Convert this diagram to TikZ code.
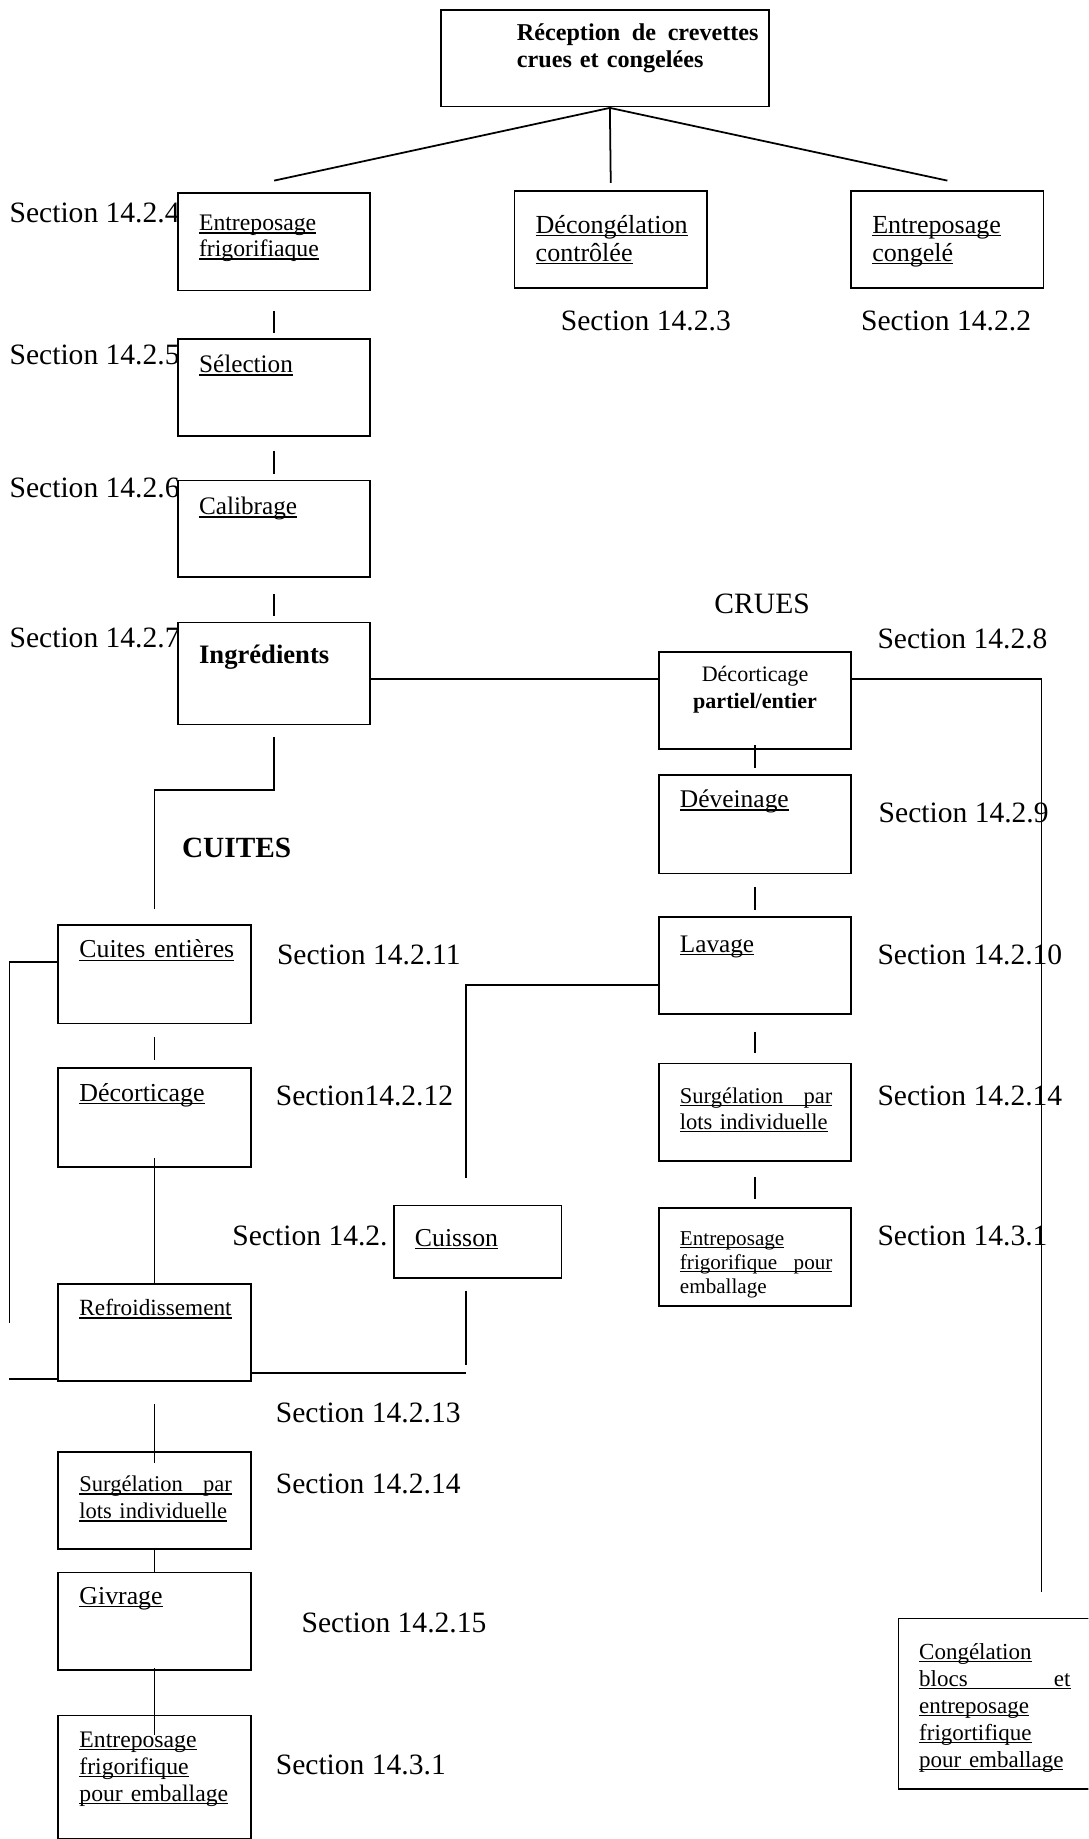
\documentclass[tikz,border=0pt]{standalone}
\usepackage{fontspec}
\setmainfont{Liberation Serif}
\usetikzlibrary{calc}
\newsavebox\ulinebox
\newcommand{\uln}[1]{\leavevmode\sbox\ulinebox{#1}\rlap{\rule[-2.6pt]{\wd\ulinebox}{1.2pt}}\usebox\ulinebox}
\tikzset{
  stage/.style n args={3}{draw, fill=white, line width=1.5pt, anchor=north west,
    inner xsep=18pt, inner ysep=0pt, text width=#1pt-36pt, align=left,
    text height=#3pt, text depth=#2pt-#3pt},
  fnt/.style 2 args={font=\fontsize{#1}{#2}\selectfont},
  sect/.style={anchor=base west, inner sep=0pt, fnt={25.2}{30}},
  link/.style={line width=1.5pt},
}
\begin{document}
\begin{tikzpicture}[x=1pt,y=-1pt]
\useasboundingbox (0,0) rectangle (928,1568);
\clip (0,0) rectangle (928,1568);

\node[sect] (sec24) at (8,190) {Section 14.2.4};
\node[sect] (sec23) at (478,282) {Section 14.2.3};
\node[sect] (sec22) at (734,282) {Section 14.2.2};
\node[sect] (sec25) at (8,311) {Section 14.2.5};
\node[sect] (sec26) at (8,424) {Section 14.2.6};
\node[sect] (sec27) at (8,552) {Section 14.2.7};
\node[sect] (crues) at (609,523) {CRUES};
\node[sect] (sec28) at (748,553) {Section 14.2.8};
\node[sect, font=\fontsize{25}{30}\selectfont\bfseries] (cuites) at (155,731) {CUITES};
\node[sect] (sec29) at (749,701) {Section 14.2.9};
\node[sect] (sec210) at (748,822) {Section 14.2.10};
\node[sect] (sec211) at (236,822) {Section 14.2.11};
\node[sect] (sec212) at (235,943) {Section14.2.12};
\node[sect] (sec214r) at (748,943) {Section 14.2.14};
\node[sect] (sec2x) at (198,1062) {Section 14.2.};
\node[sect] (sec31r) at (748,1062) {Section 14.3.1};
\node[sect] (sec213) at (235,1213) {Section 14.2.13};
\node[sect] (sec214l) at (235,1273) {Section 14.2.14};
\node[sect] (sec215) at (257,1392) {Section 14.2.15};
\node[sect] (sec31l) at (235,1513) {Section 14.3.1};

\node[stage={280}{82}{26}, inner xsep=9pt, text width=262pt, font=\fontsize{20.6}{23}\selectfont\bfseries] (recep) at (375,8)
  {\hspace*{56pt}\makebox[206pt]{Réception\hfill de\hfill crevettes}\\\hspace*{56pt}crues et congelées};
\node[stage={164}{83}{32}, fnt={20.2}{22}] (frigo) at (151,164) {\uln{Entreposage}\\\uln{frigorifiaque}};
\node[stage={164}{83}{36}, fnt={22.2}{24}] (decong) at (438,162) {\uln{Décongélation}\\\uln{contrôlée}};
\node[stage={164}{83}{36}, fnt={22.2}{24}] (congele) at (725,162) {\uln{Entreposage}\\\uln{congelé}};
\node[stage={164}{83}{29}, fnt={21.5}{25}] (sel) at (151,288) {\uln{Sélection}};
\node[stage={164}{82}{29}, fnt={21.5}{25}] (calib) at (151,409) {\uln{Calibrage}};
\node[stage={164}{87}{35}, font=\fontsize{22.7}{26}\selectfont\bfseries] (ingr) at (151,530) {Ingrédients};
\node[stage={164}{83}{25}, align=center, fnt={18.8}{23}] (decort) at (561,555) {Décorticage\\\textbf{partiel/entier}};
\node[stage={164}{84}{28}, fnt={21.7}{25}] (devein) at (561,660) {\uln{Déveinage}};
\node[stage={164}{83}{30}, fnt={21.5}{25}] (lavage) at (561,781) {\uln{Lavage}};
\node[stage={164}{83}{34}, fnt={19.2}{22}] (surgR) at (561,906)
  {\uln{\makebox[130pt]{Surgélation\hfill par}}\\\uln{lots individuelle}};
\node[stage={164}{84}{32}, fnt={18}{20.5}] (entrR) at (561,1029)
  {\uln{Entreposage}\\\uln{\makebox[130pt]{frigorifique\hfill pour}}\\emballage};
\node[stage={180}{144}{34}, draw=none, inner xsep=17pt, text width=146pt, fnt={19.6}{23}] (congel) at (766,1380)
  {\uln{Congélation}\\\uln{\makebox[129pt]{blocs\hfill et}}\\\uln{entreposage}\\\uln{frigortifique}\\\uln{pour emballage}};
\draw[link] (congel.north east) -- (congel.north west) -- (congel.south west) -- (congel.south east);
\node[stage={164}{84}{28}, fnt={22}{25}] (cuitesE) at (49,788) {\uln{Cuites entières}};
\node[stage={164}{84}{28}, fnt={22.1}{25}] (decortL) at (49,910) {\uln{Décorticage}};
\node[stage={143}{62}{35}, fnt={22}{25}] (cuisson) at (335,1027) {\uln{Cuisson}};
\node[stage={164}{83}{27}, fnt={19.8}{23}] (refroid) at (49,1094) {\uln{Refroidissement}};
\node[stage={164}{83}{34}, fnt={19.2}{23}] (surgL) at (49,1237)
  {\uln{\makebox[130pt]{Surgélation\hfill par}}\\\uln{lots individuelle}};
\node[stage={164}{83}{27}, fnt={22}{25}] (givrage) at (49,1340) {\uln{Givrage}};
\node[stage={164}{105}{27}, fnt={20.2}{23}] (entrL) at (49,1462)
  {\uln{Entreposage}\\\uln{frigorifique}\\\uln{pour emballage}};

\coordinate (apex) at (520,92);
\draw[link] (apex) -- ($(frigo.north)+(0,-10)$);
\draw[link] (apex) -- ($(decong.north)+(0,-6)$);
\draw[link] (apex) -- ($(congele.north)+(0,-8)$);
\draw[link] ($(frigo.south)+(0,17)$) -- ($(sel.north)+(0,-4)$);
\draw[link] ($(sel.south)+(0,12)$) -- ($(calib.north)+(0,-5)$);
\draw[link] ($(calib.south)+(0,14)$) -- ($(ingr.north)+(0,-5)$);
\draw[link] ($(ingr.north east)+(0,49)$) -- ($(decort.north west)+(0,24)$);
\draw[link] ($(decort.north east)+(0,24)$) -| ($(congel.north west)+(122,-23)$);
\draw[link] ($(decort.south)+(0,-4)$) -- ($(devein.north)+(0,-5)$);
\draw[link] ($(devein.south)+(0,11)$) -- ($(lavage.north)+(0,-5)$);
\draw[link] ($(lavage.north west)+(0,59)$) -| ($(cuisson.north)+(-10,-23)$);
\draw[link] ($(lavage.south)+(0,14)$) -- ($(surgR.north)+(0,-8)$);
\draw[link] ($(surgR.south)+(0,13)$) -- ($(entrR.north)+(0,-7)$);
\draw[link] ($(ingr.south)+(0,10)$) -- ++(0,45) -| ($(cuitesE.north)+(0,-13)$);
\coordinate (leftend) at (8,1128);
\draw[link] ($(cuitesE.north west)+(0,32)$) -| (leftend);
\draw[link] ($(cuitesE.south)+(0,11)$) -- ($(decortL.north)+(0,-6)$);
\draw[link] ($(decortL.south)+(0,-8)$) -- (refroid.north);
\draw[link] ($(cuisson.south)+(-10,10)$) -- ++(0,63);
\draw[link] ($(refroid.south east)+(0,-8)$) -- ++(183,0);
\draw[link] ($(refroid.south west)+(0,-3)$) -- ++(-41,0);
\draw[link] ($(refroid.south)+(0,19)$) -- ($(surgL.north)+(0,10)$);
\draw[link] ($(surgL.south)+(0,-2)$) -- (givrage.north);
\draw[link] ($(givrage.south)+(0,-2)$) -- ($(entrL.north)+(0,17)$);
\end{tikzpicture}
\end{document}
